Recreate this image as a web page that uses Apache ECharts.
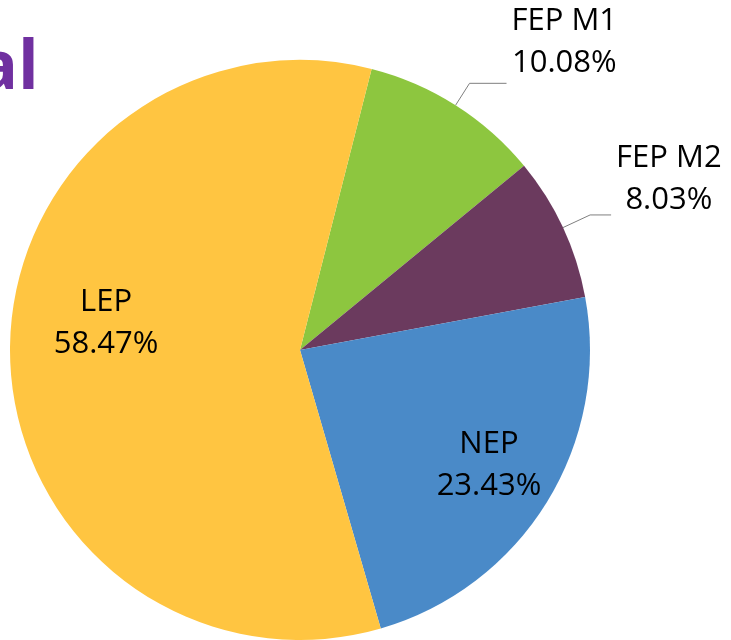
<!DOCTYPE html>
<html>
<head>
<meta charset="utf-8">
<script src="https://cdn.jsdelivr.net/npm/echarts@6/dist/echarts.min.js"></script>
<style>
  html, body { margin: 0; padding: 0; background: #fff; }
  #chart { width: 731px; height: 640px; }
</style>
</head>
<body>
<div id="chart"></div>
<script>
// slices in clockwise order, starting at the LEP / FEP M1 border
var categories = ['FEP M1', 'FEP M2', 'NEP', 'LEP'];
var values = [10.08, 8.03, 23.43, 58.47];
var colors = ['#8DC63F', '#6B3A5E', '#4A8AC8', '#FFC541'];

var font = '"Open Sans", "Liberation Sans", sans-serif';

// label line / text tweaks for the small outside slices
var outsideLabel = {
  'FEP M1': { length: 26, length2: 37, padBottom: 82 },
  'FEP M2': { length: 30, length2: 21, padBottom: 72 }
};
// nudges for the inside labels
var insideShift = {
  'LEP': [-46, -29],
  'NEP': [63, 37]
};

var chart = echarts.init(document.getElementById('chart'));

var seriesData = [];
for (var i = 0; i < categories.length; i++) {
  var item = {
    name: categories[i],
    value: values[i],
    itemStyle: { color: colors[i] }
  };
  var o = outsideLabel[categories[i]];
  if (o) {
    item.label = { position: 'outside', padding: [0, 0, o.padBottom, 0] };
    item.labelLine = { show: true, length: o.length, length2: o.length2 };
  } else {
    item.label = { position: 'inside' };
    item.labelLine = { show: false };
  }
  seriesData.push(item);
}

chart.setOption({
  animation: false,
  graphic: [{
    type: 'text',
    x: -23,
    y: 36,
    style: {
      text: 'al',
      font: 'bold 68px ' + font,
      fill: '#7030A0'
    }
  }],
  series: [{
    type: 'pie',
    center: [300, 350],
    radius: 290,
    startAngle: 75.7,
    clockwise: true,
    avoidLabelOverlap: false,
    label: {
      show: true,
      bleedMargin: 0,
      overflow: 'none',
      formatter: function (p) {
        return '{t|' + p.name + '}\n{t|' + p.value.toFixed(2) + '%}';
      },
      rich: {
        t: {
          align: 'center',
          fontFamily: font,
          fontSize: 31,
          lineHeight: 42,
          color: '#000'
        }
      }
    },
    labelLine: {
      lineStyle: { color: '#7F7F7F', width: 1 }
    },
    labelLayout: function (params) {
      var s = insideShift[categories[params.dataIndex]];
      if (s) {
        return { dx: s[0], dy: s[1] };
      }
    },
    emphasis: { disabled: true },
    data: seriesData
  }]
});
</script>
</body>
</html>
